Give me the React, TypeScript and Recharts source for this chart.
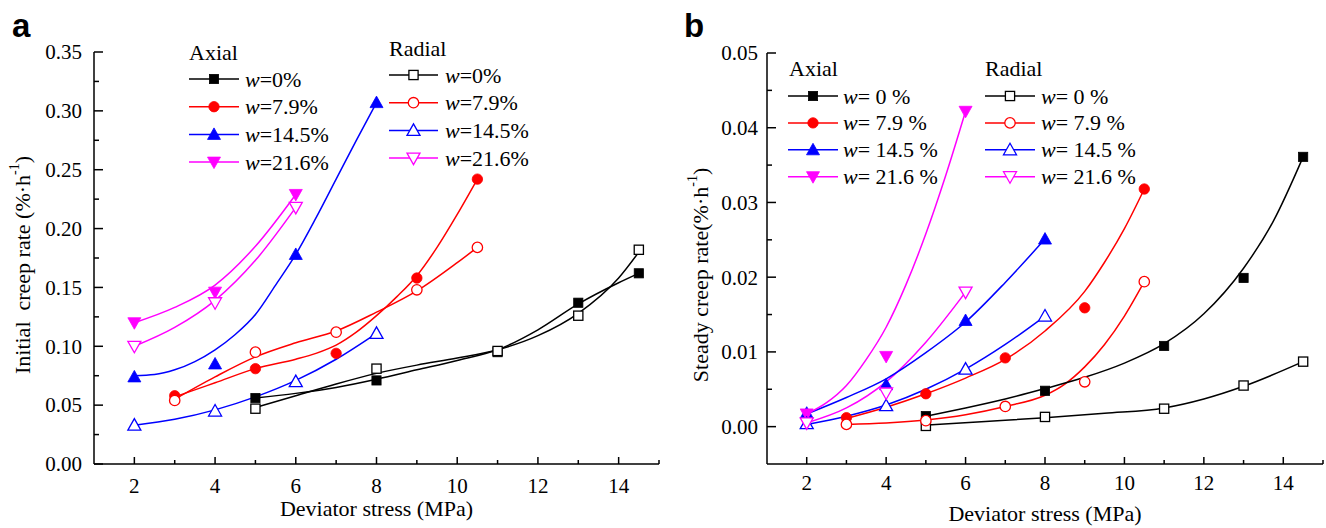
import React from 'react';
import { ComposedChart, Line, Scatter, XAxis, YAxis } from 'recharts';

const SERIF = '"Liberation Serif", "Times New Roman", serif';
const SANS = '"Liberation Sans", Arial, sans-serif';

// moisture contents and styling per moisture level
const moistureLevels = ['0', '7.9', '14.5', '21.6'];
const seriesColors = ['#000000', '#ff0000', '#0000ff', '#ff00ff'];
const markerShapes = ['square', 'circle', 'up', 'down'];

// deviator stress levels (MPa) for each moisture content
const stressW0 = [5, 8, 11, 13, 14.5];
const stressW79 = [3, 5, 7, 9, 10.5];
const stressW145 = [2, 4, 6, 8];
const stressW216 = [2, 4, 6];
const stressByLevel = [stressW0, stressW79, stressW145, stressW216];

// x-axis ticks (even = labelled, odd = minor)
const stressTicks = [2, 3, 4, 5, 6, 7, 8, 9, 10, 11, 12, 13, 14, 15];

// (a) initial creep rate, measured
const initAxialW0 = [0.056, 0.071, 0.095, 0.137, 0.162];
const initAxialW79 = [0.058, 0.081, 0.094, 0.158, 0.242];
const initAxialW145 = [0.074, 0.085, 0.178, 0.307];
const initAxialW216 = [0.12, 0.146, 0.229];
const initRadialW0 = [0.047, 0.081, 0.096, 0.126, 0.182];
const initRadialW79 = [0.054, 0.095, 0.112, 0.148, 0.184];
const initRadialW145 = [0.033, 0.045, 0.07, 0.111];
const initRadialW216 = [0.1, 0.137, 0.218];

// (a) fitted curves
const initFitAxialW0 = [[5, 0.056], [6, 0.06], [7, 0.065], [8, 0.072], [9, 0.08], [10, 0.088], [11, 0.097], [12, 0.114], [13, 0.136], [14, 0.154], [14.5, 0.162]];
const initFitRadialW0 = [[5, 0.048], [6, 0.058], [7, 0.068], [8, 0.077], [9, 0.084], [10, 0.09], [11, 0.097], [12, 0.109], [13, 0.128], [14, 0.158], [14.5, 0.18]];
const initFitAxialW79 = [[3, 0.057], [4, 0.069], [5, 0.081], [6, 0.089], [6.5, 0.094], [7, 0.101], [7.5, 0.112], [8, 0.126], [8.5, 0.142], [9, 0.16], [9.5, 0.184], [10, 0.212], [10.5, 0.242]];
const initFitRadialW79 = [[3, 0.055], [4, 0.074], [5, 0.091], [6, 0.103], [7, 0.113], [8, 0.129], [9, 0.147], [10, 0.171], [10.5, 0.184]];
const initFitAxialW145 = [[2, 0.075], [2.5, 0.076], [3, 0.08], [3.5, 0.087], [4, 0.097], [4.5, 0.11], [5, 0.127], [5.5, 0.152], [6, 0.178], [6.5, 0.209], [7, 0.242], [7.5, 0.275], [8, 0.307]];
const initFitRadialW145 = [[2, 0.033], [3, 0.038], [4, 0.046], [5, 0.057], [6, 0.071], [7, 0.089], [8, 0.111]];
const initFitAxialW216 = [[2, 0.12], [3, 0.133], [4, 0.152], [5, 0.185], [6, 0.229]];
const initFitRadialW216 = [[2, 0.1], [3, 0.116], [4, 0.139], [5, 0.173], [6, 0.218]];

// (b) steady creep rate, measured
const steadyAxialW0 = [0.0014, 0.0048, 0.0108, 0.0199, 0.0361];
const steadyAxialW79 = [0.0012, 0.0044, 0.0092, 0.0159, 0.0318];
const steadyAxialW145 = [0.0018, 0.0056, 0.0142, 0.0251];
const steadyAxialW216 = [0.0017, 0.0094, 0.0422];
const steadyRadialW0 = [0.0001, 0.0013, 0.0024, 0.0055, 0.0087];
const steadyRadialW79 = [0.0003, 0.0008, 0.0027, 0.006, 0.0194];
const steadyRadialW145 = [0.0004, 0.0028, 0.0077, 0.0148];
const steadyRadialW216 = [0.0005, 0.0045, 0.018];

// (b) fitted curves
const steadyFitAxialW0 = [[5, 0.0014], [6, 0.0025], [7, 0.0037], [8, 0.0051], [9, 0.0066], [10, 0.0085], [11, 0.0111], [12, 0.0151], [13, 0.0212], [13.75, 0.0275], [14.5, 0.0361]];
const steadyFitRadialW0 = [[5, 0.0002], [6.5, 0.0007], [8, 0.0012], [9.5, 0.0018], [11, 0.0025], [12, 0.0037], [13, 0.0054], [14.5, 0.0087]];
const steadyFitAxialW79 = [[3, 0.0011], [4, 0.0026], [5, 0.0044], [6, 0.0065], [7, 0.009], [8, 0.0128], [9, 0.0181], [9.5, 0.022], [10, 0.0265], [10.5, 0.0318]];
const steadyFitRadialW79 = [[3, 0.0003], [4, 0.0005], [5, 0.0009], [6, 0.0016], [7, 0.0027], [8, 0.0042], [8.5, 0.0057], [9, 0.008], [9.5, 0.011], [10, 0.0148], [10.5, 0.0194]];
const steadyFitAxialW145 = [[2, 0.0017], [3, 0.0039], [4, 0.0064], [5, 0.0099], [6, 0.014], [7, 0.0193], [8, 0.0251]];
const steadyFitRadialW145 = [[2, 0.0003], [3, 0.0014], [4, 0.0029], [5, 0.005], [6, 0.0077], [7, 0.011], [8, 0.0148]];
const steadyFitAxialW216 = [[2, 0.0017], [2.5, 0.0032], [3, 0.0055], [3.5, 0.009], [4, 0.0133], [4.5, 0.019], [5, 0.0258], [5.5, 0.0336], [6, 0.0422]];
const steadyFitRadialW216 = [[2, 0.0005], [3, 0.0025], [4, 0.006], [5, 0.0113], [6, 0.018]];

// y ticks
const initTicks = [0, 0.025, 0.05, 0.075, 0.1, 0.125, 0.15, 0.175, 0.2, 0.225, 0.25, 0.275, 0.3, 0.325, 0.35];
const steadyTicks = [0, 0.005, 0.01, 0.015, 0.02, 0.025, 0.03, 0.035, 0.04, 0.045, 0.05];

const toPoints = (xs: number[], ys: number[]) => xs.map((x, i) => ({ x, y: ys[i] }));
const toCurve = (pairs: number[][]) => pairs.map(([x, y]) => ({ x, y }));

function MarkerShape({ cx, cy, shape, color, filled }: any) {
  if (cx == null || cy == null || isNaN(cx) || isNaN(cy)) return null;
  const fill = filled ? color : '#ffffff';
  const sw = filled ? 0.8 : 1.3;
  if (shape === 'square') {
    const s = 4.6;
    return <rect x={cx - s} y={cy - s} width={2 * s} height={2 * s} fill={fill} stroke={color} strokeWidth={sw} />;
  }
  if (shape === 'circle') {
    return <circle cx={cx} cy={cy} r={5.2} fill={fill} stroke={color} strokeWidth={sw} />;
  }
  if (shape === 'up') {
    return <polygon points={`${cx},${cy - 6.5} ${cx + 6.5},${cy + 5} ${cx - 6.5},${cy + 5}`} fill={fill} stroke={color} strokeWidth={sw} />;
  }
  return <polygon points={`${cx},${cy + 6.5} ${cx + 6.5},${cy - 5} ${cx - 6.5},${cy - 5}`} fill={fill} stroke={color} strokeWidth={sw} />;
}

const makeXTick = (labelOffset: number) => (props: any) => {
  const { x, y, payload } = props;
  const v = payload.value;
  const major = v % 2 === 0;
  return (
    <g>
      <line x1={x} x2={x} y1={y} y2={y - (major ? 7 : 4)} stroke="#000" strokeWidth={1.5} />
      {major && (
        <text x={x} y={y + labelOffset} textAnchor="middle" fontSize={21} fontFamily={SERIF} fill="#000">
          {v}
        </text>
      )}
    </g>
  );
};

const makeYTick = (gap: number, isMajor: (v: number) => boolean) => (props: any) => {
  const { x, y, payload } = props;
  const v = payload.value;
  const major = isMajor(v);
  return (
    <g>
      <line x1={x} x2={x + (major ? 9 : 5)} y1={y} y2={y} stroke="#000" strokeWidth={1.5} />
      {major && (
        <text x={x - gap} y={y} dy="0.35em" textAnchor="end" fontSize={21} fontFamily={SERIF} fill="#000">
          {v.toFixed(2)}
        </text>
      )}
    </g>
  );
};

function XTitle({ cx, baseline }: any) {
  return (
    <text x={cx} y={baseline} textAnchor="middle" fontSize={22} fontFamily={SERIF} fill="#000">
      Deviator stress (MPa)
    </text>
  );
}

function YTitle({ cx, cy, text }: any) {
  return (
    <text
      x={cx}
      y={cy}
      textAnchor="middle"
      dominantBaseline="central"
      transform={`rotate(-90 ${cx} ${cy})`}
      fontSize={22}
      fontFamily={SERIF}
      fill="#000"
      style={{ whiteSpace: 'pre' }}
    >
      {text}
      <tspan fontSize={14} dy={-8}>-1</tspan>
      <tspan dy={8}>)</tspan>
    </text>
  );
}

function Panel(props: any) {
  const {
    left, yAxisWidth, marginTop, marginRight, yDomain, yTicks, isMajorY,
    axial, radial, axialFits, radialFits, xLabelOffset, yGap, xTitle, yTitle,
  } = props;
  return (
    <div style={{ position: 'absolute', left, top: 0, width: 663, height: 528 }}>
      <ComposedChart width={663} height={528} margin={{ top: marginTop, right: marginRight, bottom: 0, left: 0 }}>
        <XAxis
          type="number"
          dataKey="x"
          domain={[1, 15]}
          ticks={stressTicks}
          interval={0}
          allowDataOverflow
          height={64}
          tickSize={0}
          tickMargin={0}
          tickLine={false}
          axisLine={{ stroke: '#000', strokeWidth: 1.5 }}
          tick={makeXTick(xLabelOffset)}
          label={xTitle}
        />
        <YAxis
          type="number"
          dataKey="y"
          domain={yDomain}
          ticks={yTicks}
          interval={0}
          allowDataOverflow
          width={yAxisWidth}
          tickSize={0}
          tickMargin={0}
          tickLine={false}
          axisLine={{ stroke: '#000', strokeWidth: 1.5 }}
          tick={makeYTick(yGap, isMajorY)}
          label={yTitle}
        />
        {radialFits.map((pairs: number[][], i: number) => (
          <Line key={`rf${i}`} data={toCurve(pairs)} dataKey="y" type="monotone" stroke={seriesColors[i]} strokeWidth={1.5} dot={false} activeDot={false} isAnimationActive={false} />
        ))}
        {axialFits.map((pairs: number[][], i: number) => (
          <Line key={`af${i}`} data={toCurve(pairs)} dataKey="y" type="monotone" stroke={seriesColors[i]} strokeWidth={1.5} dot={false} activeDot={false} isAnimationActive={false} />
        ))}
        {axial.map((ys: number[], i: number) => (
          <Scatter
            key={`a${i}`}
            data={toPoints(stressByLevel[i], ys)}
            isAnimationActive={false}
            shape={(p: any) => <MarkerShape cx={p.cx} cy={p.cy} shape={markerShapes[i]} color={seriesColors[i]} filled />}
          />
        ))}
        {radial.map((ys: number[], i: number) => (
          <Scatter
            key={`r${i}`}
            data={toPoints(stressByLevel[i], ys)}
            isAnimationActive={false}
            shape={(p: any) => <MarkerShape cx={p.cx} cy={p.cy} shape={markerShapes[i]} color={seriesColors[i]} filled={false} />}
          />
        ))}
      </ComposedChart>
    </div>
  );
}

function LegendBlock({ title, titleX, titleBaseline, rowY0, rowStep, lineX1, lineX2, textX, filled, spaced }: any) {
  return (
    <g>
      <text x={titleX} y={titleBaseline} fontSize={22} fontFamily={SERIF} fill="#000">{title}</text>
      {moistureLevels.map((lv, i) => {
        const y = rowY0 + i * rowStep;
        return (
          <g key={lv}>
            <line x1={lineX1} x2={lineX2} y1={y} y2={y} stroke={seriesColors[i]} strokeWidth={1.5} />
            <MarkerShape cx={(lineX1 + lineX2) / 2} cy={y} shape={markerShapes[i]} color={seriesColors[i]} filled={filled} />
            <text x={textX} y={y + 7.5} fontSize={22} fontFamily={SERIF} fill="#000">
              <tspan fontStyle="italic">w</tspan>
              {spaced ? `= ${lv} %` : `=${lv}%`}
            </text>
          </g>
        );
      })}
    </g>
  );
}

export default function App() {
  return (
    <div style={{ position: 'absolute', left: 0, top: 0, width: 1326, height: 528, background: '#fff', overflow: 'hidden' }}>
      <Panel
        left={0}
        yAxisWidth={94}
        marginTop={52}
        marginRight={4}
        yDomain={[0, 0.35]}
        yTicks={initTicks}
        isMajorY={(v: number) => Math.round(v * 1000) % 50 === 0}
        axial={[initAxialW0, initAxialW79, initAxialW145, initAxialW216]}
        radial={[initRadialW0, initRadialW79, initRadialW145, initRadialW216]}
        axialFits={[initFitAxialW0, initFitAxialW79, initFitAxialW145, initFitAxialW216]}
        radialFits={[initFitRadialW0, initFitRadialW79, initFitRadialW145, initFitRadialW216]}
        xLabelOffset={29}
        yGap={12}
        xTitle={<XTitle cx={376.5} baseline={516} />}
        yTitle={<YTitle cx={22} cy={265} text={'Initial  creep rate (%\u00b7h'} />}
      />
      <Panel
        left={663}
        yAxisWidth={104}
        marginTop={53}
        marginRight={3}
        yDomain={[-0.005, 0.05]}
        yTicks={steadyTicks}
        isMajorY={(v: number) => Math.round(v * 1000) % 10 === 0}
        axial={[steadyAxialW0, steadyAxialW79, steadyAxialW145, steadyAxialW216]}
        radial={[steadyRadialW0, steadyRadialW79, steadyRadialW145, steadyRadialW216]}
        axialFits={[steadyFitAxialW0, steadyFitAxialW79, steadyFitAxialW145, steadyFitAxialW216]}
        radialFits={[steadyFitRadialW0, steadyFitRadialW79, steadyFitRadialW145, steadyFitRadialW216]}
        xLabelOffset={26}
        yGap={9}
        xTitle={<XTitle cx={382} baseline={521} />}
        yTitle={<YTitle cx={37} cy={275} text={'Steady creep rate(%\u00b7h'} />}
      />
      <svg width={1326} height={528} style={{ position: 'absolute', left: 0, top: 0, pointerEvents: 'none' }}>
        <text x={12} y={37} fontSize={33} fontWeight="bold" fontFamily={SANS} fill="#000">a</text>
        <text x={684} y={37} fontSize={33} fontWeight="bold" fontFamily={SANS} fill="#000">b</text>
        <LegendBlock title="Axial" titleX={189} titleBaseline={60} rowY0={79} rowStep={27.7} lineX1={189} lineX2={239} textX={245} filled spaced={false} />
        <LegendBlock title="Radial" titleX={389} titleBaseline={56} rowY0={75} rowStep={27.7} lineX1={389} lineX2={438} textX={445} filled={false} spaced={false} />
        <LegendBlock title="Axial" titleX={789} titleBaseline={76} rowY0={96} rowStep={26.9} lineX1={788} lineX2={838} textX={843} filled spaced />
        <LegendBlock title="Radial" titleX={985} titleBaseline={76} rowY0={96} rowStep={26.9} lineX1={985} lineX2={1035} textX={1041} filled={false} spaced />
      </svg>
    </div>
  );
}
